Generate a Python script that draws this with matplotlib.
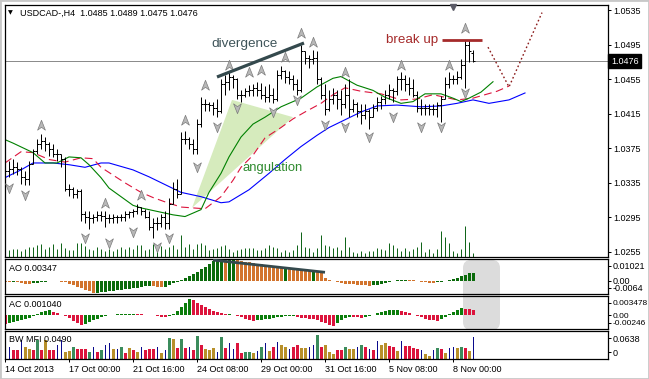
import numpy as np
import matplotlib
matplotlib.use("Agg")
import matplotlib.pyplot as plt
from matplotlib.collections import LineCollection
from matplotlib.patches import Polygon, FancyBboxPatch, Rectangle
from matplotlib.path import Path
import matplotlib.transforms as mtransforms

plt.rcParams['font.family'] = ['Liberation Sans', 'DejaVu Sans']

# ---- price bars (H4, one per index) ----
opn = [1.0352, 1.0349, 1.0351, 1.0353, 1.0351, 1.0342, 1.0340, 1.0357, 1.0372, 1.0380,
       1.0383, 1.0380, 1.0374, 1.0368, 1.0368, 1.0363, 1.0328, 1.0328, 1.0322, 1.0326,
       1.0299, 1.0296, 1.0294, 1.0296, 1.0298, 1.0297, 1.0294, 1.0294, 1.0296, 1.0295,
       1.0296, 1.0299, 1.0301, 1.0303, 1.0307, 1.0303, 1.0296, 1.0284, 1.0288, 1.0288,
       1.0296, 1.0288, 1.0311, 1.0328, 1.0322, 1.0386, 1.0386, 1.0380, 1.0374, 1.0403,
       1.0426, 1.0426, 1.0425, 1.0422, 1.0418, 1.0449, 1.0452, 1.0457, 1.0455, 1.0437,
       1.0437, 1.0441, 1.0443, 1.0445, 1.0443, 1.0437, 1.0434, 1.0437, 1.0432, 1.0460,
       1.0464, 1.0457, 1.0455, 1.0449, 1.0443, 1.0487, 1.0480, 1.0478, 1.0480, 1.0455,
       1.0437, 1.0420, 1.0432, 1.0437, 1.0432, 1.0426, 1.0437, 1.0420, 1.0426, 1.0418,
       1.0414, 1.0418, 1.0411, 1.0422, 1.0429, 1.0432, 1.0437, 1.0443, 1.0441, 1.0455,
       1.0455, 1.0449, 1.0445, 1.0437, 1.0422, 1.0422, 1.0422, 1.0420, 1.0420, 1.0425,
       1.0432, 1.0449, 1.0455, 1.0455, 1.0457, 1.0471, 1.0495, 1.0485]
high = [1.0357, 1.0360, 1.0363, 1.0359, 1.0353, 1.0349, 1.0360, 1.0374, 1.0386, 1.0391,
        1.0388, 1.0382, 1.0380, 1.0374, 1.0368, 1.0365, 1.0334, 1.0330, 1.0328, 1.0328,
        1.0303, 1.0302, 1.0299, 1.0302, 1.0302, 1.0303, 1.0299, 1.0299, 1.0298, 1.0299,
        1.0302, 1.0303, 1.0305, 1.0310, 1.0307, 1.0305, 1.0303, 1.0294, 1.0296, 1.0299,
        1.0303, 1.0317, 1.0336, 1.0340, 1.0394, 1.0395, 1.0388, 1.0386, 1.0409, 1.0434,
        1.0432, 1.0429, 1.0428, 1.0432, 1.0455, 1.0460, 1.0464, 1.0460, 1.0456, 1.0443,
        1.0445, 1.0448, 1.0449, 1.0452, 1.0451, 1.0447, 1.0449, 1.0445, 1.0466, 1.0470,
        1.0466, 1.0464, 1.0460, 1.0455, 1.0495, 1.0487, 1.0483, 1.0489, 1.0487, 1.0457,
        1.0449, 1.0443, 1.0445, 1.0443, 1.0443, 1.0449, 1.0455, 1.0432, 1.0428, 1.0426,
        1.0426, 1.0420, 1.0426, 1.0434, 1.0435, 1.0443, 1.0449, 1.0445, 1.0459, 1.0463,
        1.0460, 1.0457, 1.0455, 1.0441, 1.0432, 1.0426, 1.0426, 1.0426, 1.0428, 1.0436,
        1.0457, 1.0463, 1.0460, 1.0464, 1.0478, 1.0500, 1.0500, 1.0489]
low = [1.0340, 1.0342, 1.0345, 1.0344, 1.0334, 1.0332, 1.0333, 1.0357, 1.0368, 1.0374,
       1.0372, 1.0366, 1.0365, 1.0360, 1.0353, 1.0326, 1.0320, 1.0317, 1.0317, 1.0291,
       1.0288, 1.0282, 1.0288, 1.0291, 1.0291, 1.0284, 1.0288, 1.0289, 1.0289, 1.0291,
       1.0291, 1.0294, 1.0296, 1.0299, 1.0298, 1.0294, 1.0280, 1.0271, 1.0280, 1.0284,
       1.0282, 1.0282, 1.0311, 1.0317, 1.0322, 1.0380, 1.0374, 1.0368, 1.0368, 1.0400,
       1.0418, 1.0418, 1.0414, 1.0411, 1.0416, 1.0437, 1.0443, 1.0445, 1.0432, 1.0429,
       1.0434, 1.0436, 1.0436, 1.0435, 1.0432, 1.0428, 1.0429, 1.0427, 1.0430, 1.0455,
       1.0451, 1.0449, 1.0443, 1.0437, 1.0440, 1.0472, 1.0468, 1.0472, 1.0449, 1.0432,
       1.0414, 1.0418, 1.0426, 1.0420, 1.0414, 1.0422, 1.0411, 1.0417, 1.0411, 1.0403,
       1.0409, 1.0397, 1.0411, 1.0418, 1.0420, 1.0426, 1.0432, 1.0429, 1.0437, 1.0443,
       1.0441, 1.0437, 1.0434, 1.0417, 1.0414, 1.0414, 1.0414, 1.0413, 1.0411, 1.0405,
       1.0432, 1.0445, 1.0449, 1.0449, 1.0455, 1.0445, 1.0475, 1.0475]
close = [1.0349, 1.0351, 1.0353, 1.0351, 1.0342, 1.0340, 1.0357, 1.0372, 1.0380, 1.0383,
         1.0380, 1.0374, 1.0368, 1.0368, 1.0363, 1.0328, 1.0328, 1.0322, 1.0326, 1.0299,
         1.0296, 1.0294, 1.0296, 1.0298, 1.0297, 1.0294, 1.0294, 1.0296, 1.0295, 1.0296,
         1.0299, 1.0301, 1.0303, 1.0307, 1.0303, 1.0296, 1.0284, 1.0288, 1.0288, 1.0296,
         1.0288, 1.0311, 1.0328, 1.0322, 1.0386, 1.0386, 1.0380, 1.0374, 1.0403, 1.0426,
         1.0426, 1.0425, 1.0422, 1.0418, 1.0449, 1.0452, 1.0457, 1.0455, 1.0437, 1.0437,
         1.0441, 1.0443, 1.0445, 1.0443, 1.0437, 1.0434, 1.0437, 1.0432, 1.0460, 1.0464,
         1.0457, 1.0455, 1.0449, 1.0443, 1.0487, 1.0480, 1.0478, 1.0480, 1.0455, 1.0437,
         1.0420, 1.0432, 1.0437, 1.0432, 1.0426, 1.0437, 1.0420, 1.0426, 1.0418, 1.0414,
         1.0418, 1.0411, 1.0422, 1.0429, 1.0432, 1.0437, 1.0443, 1.0441, 1.0455, 1.0455,
         1.0449, 1.0445, 1.0437, 1.0422, 1.0422, 1.0422, 1.0420, 1.0420, 1.0425, 1.0432,
         1.0449, 1.0455, 1.0455, 1.0457, 1.0471, 1.0495, 1.0487, 1.0476]
volume = [900, 700, 800, 800, 600, 800, 1000, 1000, 1200, 1300,
          800, 1000, 1300, 800, 1400, 900, 700, 700, 1400, 1400,
          1100, 800, 700, 1000, 800, 600, 800, 600, 800, 1000,
          800, 1000, 800, 1200, 1200, 700, 800, 1300, 900, 1100,
          800, 1000, 1200, 800, 2200, 1000, 1300, 800, 1300, 1400,
          1200, 700, 800, 900, 1100, 1200, 800, 500, 700, 800,
          900, 900, 900, 700, 700, 900, 1200, 1000, 900, 500,
          700, 500, 700, 1200, 2500, 1000, 900, 500, 900, 2200,
          1200, 1100, 900, 1000, 700, 2000, 1000, 500, 400, 600,
          400, 600, 600, 900, 800, 700, 1400, 1200, 900, 600,
          900, 600, 800, 1000, 1500, 500, 800, 400, 800, 2600,
          2000, 1400, 600, 400, 800, 3100, 1500, 400]

# ---- alligator lines (read at sample bars, shifted ahead of price) ----
jaw_idx = [0, 4, 7, 12, 16, 20, 24, 26, 32, 36, 40, 44, 49, 54, 56, 61, 66, 70, 74, 78,
           81, 85, 89, 93, 98, 104, 109, 113, 117, 121, 126, 130]
jaw = [1.0341, 1.0350, 1.0358, 1.0358, 1.0356, 1.0353, 1.0358, 1.0358, 1.0350, 1.0342,
       1.0333, 1.0324, 1.0319, 1.0312, 1.0313, 1.0327, 1.0346, 1.0362, 1.0377, 1.0390,
       1.0399, 1.0408, 1.0417, 1.0424, 1.0425, 1.0423, 1.0424, 1.0427, 1.0431, 1.0427,
       1.0431, 1.0439]
teeth_idx = [0, 4, 7, 11, 15, 19, 22, 24, 28, 30, 34, 37, 40, 44, 47, 50, 54, 57, 59, 62,
             65, 69, 72, 75, 79, 82, 85, 89, 94, 99, 103, 107, 110, 113, 117, 120, 123, 126]
teeth = [1.0358, 1.0371, 1.0370, 1.0362, 1.0359, 1.0364, 1.0363, 1.0353, 1.0341, 1.0335,
         1.0324, 1.0318, 1.0313, 1.0307, 1.0306, 1.0305, 1.0319, 1.0338, 1.0353, 1.0367,
         1.0387, 1.0399, 1.0409, 1.0417, 1.0427, 1.0437, 1.0445, 1.0441, 1.0438, 1.0431,
         1.0432, 1.0437, 1.0434, 1.0431, 1.0433, 1.0437, 1.0441, 1.0447]
lips_idx = [0, 2, 7, 10, 13, 16, 19, 21, 24, 26, 29, 32, 34, 39, 42, 45, 49, 51, 54, 56,
            59, 62, 65, 69, 74, 78, 82, 84, 88, 92, 95, 99, 102, 105, 109, 112, 114, 116,
            119, 122]
lips = [1.0385, 1.0381, 1.0370, 1.0358, 1.0358, 1.0365, 1.0364, 1.0356, 1.0341, 1.0329,
        1.0319, 1.0309, 1.0306, 1.0301, 1.0298, 1.0296, 1.0304, 1.0324, 1.0346, 1.0365,
        1.0388, 1.0403, 1.0411, 1.0423, 1.0433, 1.0446, 1.0456, 1.0458, 1.0448, 1.0442,
        1.0434, 1.0427, 1.0429, 1.0438, 1.0438, 1.0433, 1.0429, 1.0433, 1.0440, 1.0452]

# ---- fractals ----
up_idx = [9, 25, 34, 45, 50, 56, 61, 64, 70, 74, 77, 85, 99, 111, 115]
up_val = [1.0402, 1.0312, 1.0321, 1.0408, 1.0448, 1.0471, 1.0463, 1.0466, 1.0481, 1.0508,
          1.0498, 1.0463, 1.0471, 1.0471, 1.0514]
dn_idx = [1, 5, 20, 26, 32, 38, 41, 48, 53, 58, 67, 73, 80, 85, 91, 97, 104, 109, 115]
dn_val = [1.0329, 1.0321, 1.0271, 1.0265, 1.0278, 1.0261, 1.0271, 1.0353, 1.0400, 1.0422,
          1.0417, 1.0431, 1.0402, 1.0400, 1.0388, 1.0411, 1.0400, 1.0400, 1.0439]

# ---- annotations ----
angle_idx = [46.75, 56.75, 72.0]
angle_val = [1.0306, 1.0431, 1.0411]
div_idx = [53.0, 74.75]
div_val = [1.04575, 1.04968]
brk_idx = [109.25, 119.25]
brk_val = [1.0500, 1.0500]
fc_idx = [120.75, 126.0, 134.25]
fc_val = [1.0492, 1.0446, 1.0532]
ao_div_idx = [52.0, 80.0]
ao_div_val = [0.0097, 0.0039]

# ---- oscillators ----
ao = [-0.00071, -0.00071, -0.00048, -0.00071, -0.00119, -0.00143, -0.00143, -0.00119, -0.00095, -0.00071,
      -0.00048, -0.00024, -0.00024, -0.00038, -0.00048, -0.00071, -0.00143, -0.00214, -0.00285, -0.00356,
      -0.00428, -0.00520, -0.00600, -0.00580, -0.00560, -0.00530, -0.00500, -0.00475, -0.00451, -0.00428,
      -0.00404, -0.00380, -0.00356, -0.00333, -0.00285, -0.00261, -0.00238, -0.00261, -0.00285, -0.00309,
      -0.00285, -0.00190, -0.00119, -0.00048, 0.00048, 0.00143, 0.00214, 0.00309, 0.00404, 0.00523,
      0.00665, 0.00784, 0.00903, 0.01000, 0.01021, 0.00975, 0.00990, 0.01000, 0.00960, 0.00930,
      0.00900, 0.00870, 0.00840, 0.00800, 0.00770, 0.00740, 0.00710, 0.00680, 0.00650, 0.00620,
      0.00630, 0.00600, 0.00575, 0.00550, 0.00525, 0.00500, 0.00475, 0.00490, 0.00440, 0.00333,
      0.00143, 0.00048, -0.00024, -0.00071, -0.00119, -0.00143, -0.00166, -0.00170, -0.00190, -0.00200,
      -0.00214, -0.00238, -0.00214, -0.00190, -0.00166, -0.00119, -0.00071, -0.00024, 0.00014, 0.00024,
      0.00038, 0.00024, 0.00014, -0.00024, -0.00048, -0.00071, -0.00095, -0.00100, -0.00086, -0.00048,
      0.00000, 0.00048, 0.00095, 0.00143, 0.00214, 0.00285, 0.00333, 0.00347]
ac = [-0.00153, -0.00144, -0.00126, -0.00108, -0.00090, -0.00072, -0.00054, -0.00018, 0.00018, 0.00054,
      0.00081, 0.00090, 0.00054, 0.00036, 0.00009, -0.00018, -0.00054, -0.00108, -0.00144, -0.00171,
      -0.00162, -0.00126, -0.00090, -0.00063, -0.00036, -0.00018, 0.00000, 0.00009, 0.00018, 0.00020,
      0.00027, 0.00028, 0.00030, 0.00022, 0.00018, 0.00014, 0.00009, 0.00005, -0.00009, -0.00027,
      -0.00036, -0.00018, 0.00018, 0.00072, 0.00144, 0.00216, 0.00288, 0.00270, 0.00216, 0.00180,
      0.00144, 0.00108, 0.00081, 0.00054, 0.00036, 0.00018, 0.00020, 0.00005, -0.00005, -0.00036,
      -0.00063, -0.00081, -0.00099, -0.00090, -0.00081, -0.00072, -0.00063, -0.00054, -0.00036, -0.00027,
      -0.00018, -0.00009, -0.00005, -0.00027, -0.00045, -0.00054, -0.00063, -0.00072, -0.00090, -0.00117,
      -0.00144, -0.00180, -0.00198, -0.00144, -0.00090, -0.00045, -0.00027, -0.00030, -0.00036, -0.00040,
      -0.00027, -0.00009, 0.00009, 0.00036, 0.00054, 0.00072, 0.00090, 0.00092, 0.00094, 0.00081,
      0.00054, 0.00036, 0.00014, -0.00009, -0.00036, -0.00063, -0.00081, -0.00090, -0.00094, -0.00072,
      -0.00036, 0.00018, 0.00054, 0.00090, 0.00126, 0.00117, 0.00108, 0.00104]
mfi = [0.0091, 0.0274, 0.0205, 0.0205, 0.0433, 0.0274, 0.0228, 0.0205, 0.0433, 0.0205,
       0.0433, 0.0205, 0.0205, 0.0319, 0.0433, 0.0160, 0.0182, 0.0274, 0.0228, 0.0228,
       0.0228, 0.0160, 0.0274, 0.0160, 0.0205, 0.0319, 0.0365, 0.0228, 0.0228, 0.0274,
       0.0137, 0.0251, 0.0205, 0.0160, 0.0274, 0.0205, 0.0228, 0.0228, 0.0274, 0.0137,
       0.0205, 0.0479, 0.0456, 0.0251, 0.0456, 0.0251, 0.0274, 0.0205, 0.0524, 0.0319,
       0.0228, 0.0205, 0.0251, 0.0160, 0.0502, 0.0251, 0.0365, 0.0228, 0.0365, 0.0137,
       0.0160, 0.0160, 0.0137, 0.0182, 0.0274, 0.0365, 0.0182, 0.0274, 0.0388, 0.0319,
       0.0274, 0.0228, 0.0274, 0.0319, 0.0251, 0.0251, 0.0274, 0.0319, 0.0547, 0.0274,
       0.0319, 0.0160, 0.0114, 0.0205, 0.0205, 0.0274, 0.0228, 0.0228, 0.0274, 0.0319,
       0.0274, 0.0228, 0.0205, 0.0410, 0.0319, 0.0365, 0.0296, 0.0274, 0.0182, 0.0410,
       0.0296, 0.0296, 0.0251, 0.0228, 0.0205, 0.0114, 0.0068, 0.0205, 0.0251, 0.0228,
       0.0137, 0.0251, 0.0274, 0.0251, 0.0274, 0.0251, 0.0182, 0.0490]
mfi_kind = ("nnppnbbpgp" "bppnnbbgpp" "pgnpgnnbng" "pbpbnpppnb" "ngbpgpnpgp"
            "bbbngpnnpp" "ggbngnbpnb" "bnppbbnngp" "bbbppgbbng" "pnpnbbppbn"
            "ppppnbbngp" "bnnbgpbn")

tick_idx = [0, 16, 32, 48, 64, 80, 96, 112]
tick_lbl = ["14 Oct 2013", "17 Oct 00:00", "21 Oct 16:00", "24 Oct 08:00",
            "29 Oct 00:00", "31 Oct 16:00", "5 Nov 08:00", "8 Nov 00:00"]
price_ticks = [1.0255, 1.0295, 1.0335, 1.0375, 1.0415, 1.0455, 1.0495, 1.0535]
last_price = 1.0476

# ---------------------------------------------------------------
W, H = 649, 379
PX = 0.72  # one pixel in points
fig = plt.figure(figsize=(W / 100, H / 100), dpi=100, facecolor='white')


def rect(x0, y0, x1, y1):
    return [x0 / W, 1 - y1 / H, (x1 - x0) / W, (y1 - y0) / H]


axv = fig.add_axes(rect(4.5, 5, 607.5, 257))
ax = fig.add_axes(rect(4.5, 5, 607.5, 257), sharex=axv)
ax_ao = fig.add_axes(rect(4.5, 259, 607.5, 294), sharex=ax)
ax_ac = fig.add_axes(rect(4.5, 296, 607.5, 329), sharex=ax)
ax_mf = fig.add_axes(rect(4.5, 331, 607.5, 359), sharex=ax)
for a in (ax, ax_ao, ax_ac, ax_mf):
    a.set_facecolor('none')
    for s in a.spines.values():
        s.set_color('black')
        s.set_linewidth(0.9)
    a.tick_params(axis='x', bottom=False, labelbottom=False)
    a.yaxis.tick_right()
    a.tick_params(axis='y', right=True, left=False, length=2.5, width=PX,
                  pad=1.5, labelsize=6.5, colors='black')

ax.set_xlim(-0.125, 150.625)
idx = np.arange(len(close))

# gray highlight box over AO / AC
hl = FancyBboxPatch((463 / 100, (H - 330) / 100), 37 / 100, 70 / 100,
                    boxstyle='round,pad=0,rounding_size=0.08',
                    transform=fig.dpi_scale_trans, fc='#dcdcdc', ec='none', zorder=-1)
fig.add_artist(hl)

# volume
axv.axis('off')
axv.set_ylim(0, 25200)
axv.vlines(idx, 0, volume, color='#11651a', lw=PX)

# main price panel
ax.set_ylim(1.02492, 1.05408)
ax.set_yticks(price_ticks)
ax.set_yticklabels(['%.4f' % p for p in price_ticks])

ax.add_patch(Polygon(list(zip(angle_idx, angle_val)), closed=True,
                     fc='#d6ebbd', ec='none', zorder=1))

ax.axhline(last_price, color='#8c8c8c', lw=PX, zorder=1)

ax.plot(jaw_idx, jaw, color='#0000ff', lw=0.8, zorder=2)
ax.plot(teeth_idx, teeth, color='#dc143c', lw=0.8, ls=(0, (7, 4)), zorder=2)
ax.plot(lips_idx, lips, color='#008000', lw=0.8, zorder=2)

segs = []
for i in idx:
    segs.append([(i, low[i]), (i, high[i])])
    segs.append([(i - 0.4, opn[i]), (i, opn[i])])
    segs.append([(i, close[i]), (i + 0.4, close[i])])
ax.add_collection(LineCollection(segs, colors='black', linewidths=PX, zorder=3))

up_mark = Path([(0, 1), (0.75, -0.9), (0, -0.35), (-0.75, -0.9), (0, 1)],
               [Path.MOVETO, Path.LINETO, Path.LINETO, Path.LINETO, Path.CLOSEPOLY])
dn_mark = Path([(0, -1), (0.75, 0.9), (0, 0.35), (-0.75, 0.9), (0, -1)],
               [Path.MOVETO, Path.LINETO, Path.LINETO, Path.LINETO, Path.CLOSEPOLY])
ax.plot(up_idx, up_val, ls='none', marker=up_mark, ms=7.5, mfc='#b8b8b8',
        mec='#7c7c7c', mew=0.5, zorder=4)
ax.plot(dn_idx, dn_val, ls='none', marker=dn_mark, ms=7.5, mfc='#b8b8b8',
        mec='#7c7c7c', mew=0.5, zorder=4)

ax.plot(div_idx, div_val, color='#34494d', lw=2.3, solid_capstyle='butt', zorder=5)
ax.plot(brk_idx, brk_val, color='#a52a2a', lw=2, solid_capstyle='butt', zorder=5)
ax.plot(fc_idx, fc_val, color='#8b1a1a', lw=1.0, ls=(0, (1.2, 1.8)), zorder=5)

ax.text(60, 1.04957, 'divergence', color='#3e5459', fontsize=9.7,
        ha='center', va='center', zorder=6)
ax.text(67, 1.03522, 'angulation', color='#2f8a2f', fontsize=9.4,
        ha='center', va='center', zorder=6)
ax.text(101.75, 1.0500, 'break up', color='#a52a2a', fontsize=9.6,
        ha='center', va='center', zorder=6)

ax.text(0.0055, 0.968, '\u25bc', transform=ax.transAxes, fontsize=4.5,
        ha='left', va='center', family=['DejaVu Sans'])
ax.text(0.026, 0.968, 'USDCAD-,H4  1.0485 1.0489 1.0475 1.0476', transform=ax.transAxes,
        fontsize=6.5, ha='left', va='center')

blend = mtransforms.blended_transform_factory(ax.transAxes, ax.transData)
ax.text(1.006, last_price, '%.4f' % last_price, transform=blend, color='white',
        fontsize=6.5, ha='left', va='center',
        bbox=dict(boxstyle='square,pad=0.3', fc='black', ec='black'))
blend_x = mtransforms.blended_transform_factory(ax.transData, ax.transAxes)
ax.plot([112], [0.992], marker='v', ms=4, color='#5a5a66', transform=blend_x,
        clip_on=False, zorder=6)

# AO
ao_col = ['#0b6b0b' if i > 0 and ao[i] > ao[i - 1] else '#d2742d' for i in idx]
ax_ao.bar(idx, ao, width=0.75, color=ao_col, zorder=2)
ax_ao.set_ylim(-0.0064, 0.01021)
ax_ao.set_yticks([0.00689, 0.0, -0.00355])
ax_ao.set_yticklabels(['0.01021', '0.00', '-0.0064'])
ax_ao.plot(ao_div_idx, ao_div_val, color='#34494d', lw=2, solid_capstyle='butt', zorder=3)
ax_ao.text(0.0075, 0.74, 'AO 0.00347', transform=ax_ao.transAxes, fontsize=6.5,
           ha='left', va='center')

# AC
ac_col = ['#0b7d0b' if i > 0 and ac[i] > ac[i - 1] else '#dc143c' for i in idx]
ax_ac.bar(idx, ac, width=0.75, color=ac_col, zorder=2)
ax_ac.set_ylim(-0.00246, 0.003478)
ax_ac.set_yticks([0.00222, 0.0, -0.00138])
ax_ac.set_yticklabels(['0.003478', '0.00', '-0.00246'])
ax_ac.tick_params(axis='y', labelsize=6.0)
ax_ac.text(0.0075, 0.73, 'AC 0.001040', transform=ax_ac.transAxes, fontsize=6.5,
           ha='left', va='center')

# BW MFI
kind_col = {'n': '#0a0a8c', 'p': '#dc143c', 'b': '#b8902a', 'g': '#3b8c5c'}
mf_w = [0.25 if k == 'n' else 0.75 for k in mfi_kind]
mf_c = [kind_col[k] for k in mfi_kind]
ax_mf.bar(idx, mfi, width=mf_w, color=mf_c, zorder=2)
ax_mf.set_ylim(0, 0.0638)
ax_mf.set_yticks([0.04785, 0.01595])
ax_mf.set_yticklabels(['0.0638', '0'])
ax_mf.text(0.0075, 0.68, 'BW MFI 0.0490', transform=ax_mf.transAxes, fontsize=6.5,
           ha='left', va='center')
ax_mf.set_xticks(tick_idx)
ax_mf.set_xticklabels(tick_lbl, ha='left')
ax_mf.tick_params(axis='x', bottom=True, labelbottom=True, length=2.5, width=PX,
                  pad=1.5, labelsize=6.5)

fig.add_artist(Rectangle((0, 0), 1, 1, transform=fig.transFigure, fill=False,
                         ec='#c8c8c8', lw=2))

fig.savefig('out.png', dpi=100)
